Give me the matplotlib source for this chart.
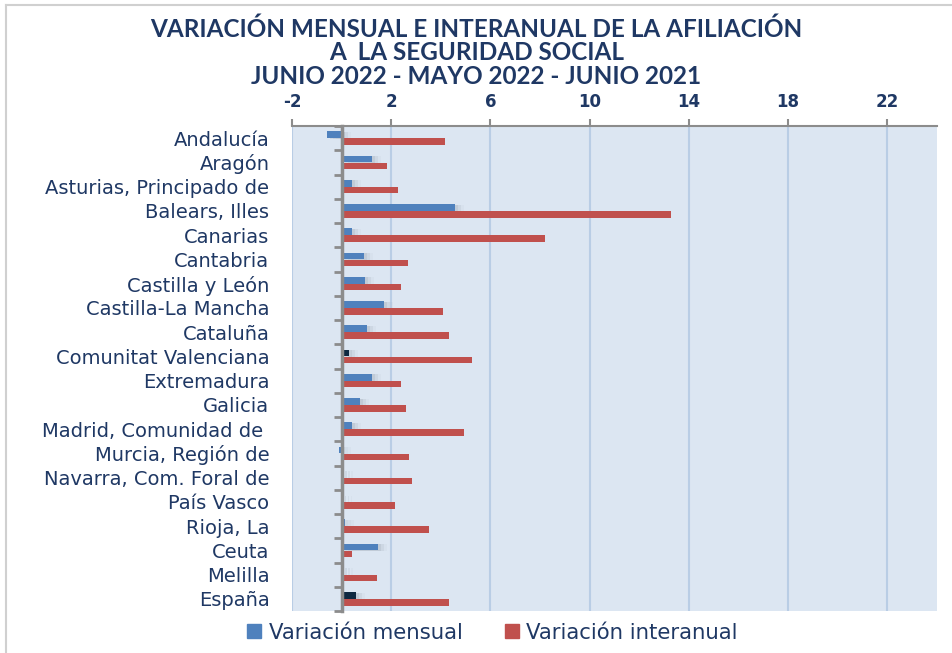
import matplotlib
matplotlib.use("Agg")
import matplotlib.pyplot as plt
import numpy as np
from matplotlib.lines import Line2D

# ── Datos ────────────────────────────────────────────────────────────────────
regiones = [
    "Andalucía", "Aragón", "Asturias, Principado de", "Balears, Illes",
    "Canarias", "Cantabria", "Castilla y León", "Castilla-La Mancha",
    "Cataluña", "Comunitat Valenciana", "Extremadura", "Galicia",
    "Madrid, Comunidad de ", "Murcia, Región de", "Navarra, Com. Foral de",
    "País Vasco", "Rioja, La", "Ceuta", "Melilla", "España",
]
var_mensual = [-0.59, 1.21, 0.42, 4.57, 0.42, 0.89, 0.95, 1.72, 1.02, 0.30,
               1.21, 0.73, 0.42, -0.09, 0.09, 0.05, 0.13, 1.47, 0.11, 0.58]
var_interanual = [4.17, 1.83, 2.26, 13.28, 8.21, 2.66, 2.38, 4.10, 4.33, 5.24,
                  2.38, 2.61, 4.93, 2.72, 2.85, 2.14, 3.52, 0.40, 1.41, 4.33]
destacadas = ["Comunitat Valenciana", "España"]
x_ticks = [-2, 2, 6, 10, 14, 18, 22]
titulo = [
    "VARIACIÓN MENSUAL E INTERANUAL DE LA AFILIACIÓN",
    "A  LA SEGURIDAD SOCIAL",
    "JUNIO 2022 - MAYO 2022 - JUNIO 2021",
]

# ── Estilo ───────────────────────────────────────────────────────────────────
AZUL = "#4F81BD"
AZUL_OSC = "#0E2841"
ROJO = "#C0504D"
FONDO = "#DCE6F2"
REJILLA = "#B9CDE5"
NAVY = "#1F3864"
GRIS = "#8C8C8C"

fig = plt.figure(figsize=(9.53, 6.53), dpi=100)
ax = fig.add_axes([0.3064, 0.0643, 0.6766, 0.7427])
ax.set_facecolor(FONDO)

y = np.arange(len(regiones))
h = 0.27
col_m = [AZUL_OSC if r in destacadas else AZUL for r in regiones]

# sombra difusa a la derecha de las barras mensuales
for k, a in enumerate([0.16, 0.10, 0.05]):
    ax.barh(y - 0.12, var_mensual, height=h, left=0.12 * (k + 1),
            color="#7f8a99", alpha=a, zorder=2, linewidth=0)
ax.barh(y - 0.14, var_mensual, height=h, color=col_m, zorder=3, linewidth=0)
ax.barh(y + 0.14, var_interanual, height=h, color=ROJO, zorder=3, linewidth=0)

ax.set_xlim(-2, 24)
ax.set_ylim(len(regiones) - 0.5, -0.5)
ax.set_xticks(x_ticks)
ax.set_xticklabels([str(t) for t in x_ticks], fontweight="bold")
ax.xaxis.tick_top()
ax.tick_params(axis="x", which="major", direction="out", length=5, width=1.5,
               color=GRIS, labelsize=12, labelcolor=NAVY, pad=6)
ax.grid(axis="x", color=REJILLA, linewidth=1.5, zorder=1)

# eje vertical en el cero
ax.spines["left"].set_position(("data", 0))
ax.spines["left"].set_color(GRIS)
ax.spines["left"].set_linewidth(2.5)
ax.spines["left"].set_zorder(4)
ax.spines["top"].set_color(GRIS)
ax.spines["top"].set_linewidth(1.5)
for s in ["right", "bottom"]:
    ax.spines[s].set_visible(False)

ax.set_yticks(y)
ax.set_yticklabels(regiones)
ax.set_yticks(np.arange(len(regiones) + 1) - 0.5, minor=True)
ax.tick_params(axis="y", which="major", length=0, pad=52, labelsize=14,
               labelcolor=NAVY)
ax.tick_params(axis="y", which="minor", length=6, width=2, color=GRIS,
               direction="out")

for i, linea in enumerate(titulo):
    fig.text(0.5, 1 - (29 + 23.5 * i) / 653, linea, ha="center", va="center",
             fontsize=17.5, fontweight="bold", color=NAVY, family="Lato")

handles = [
    Line2D([], [], marker="s", linestyle="", color=AZUL, markersize=10),
    Line2D([], [], marker="s", linestyle="", color=ROJO, markersize=10),
]
leg = fig.legend(handles, ["Variación mensual", "Variación interanual"],
                 loc="center", bbox_to_anchor=(0.516, 0.031), ncol=2,
                 frameon=False, fontsize=15.3, handlelength=0.8,
                 handletextpad=0.3, columnspacing=1.9)
for t in leg.get_texts():
    t.set_color(NAVY)

# marco de la figura
fig.add_artist(Line2D([0.0063, 0.0063], [0.0, 0.992], color="#D0D0D0",
                      linewidth=1.5, transform=fig.transFigure))
fig.add_artist(Line2D([0.0063, 1.0], [0.992, 0.992], color="#D0D0D0",
                      linewidth=1.5, transform=fig.transFigure))

fig.savefig("out.png", dpi=100, facecolor="white")
